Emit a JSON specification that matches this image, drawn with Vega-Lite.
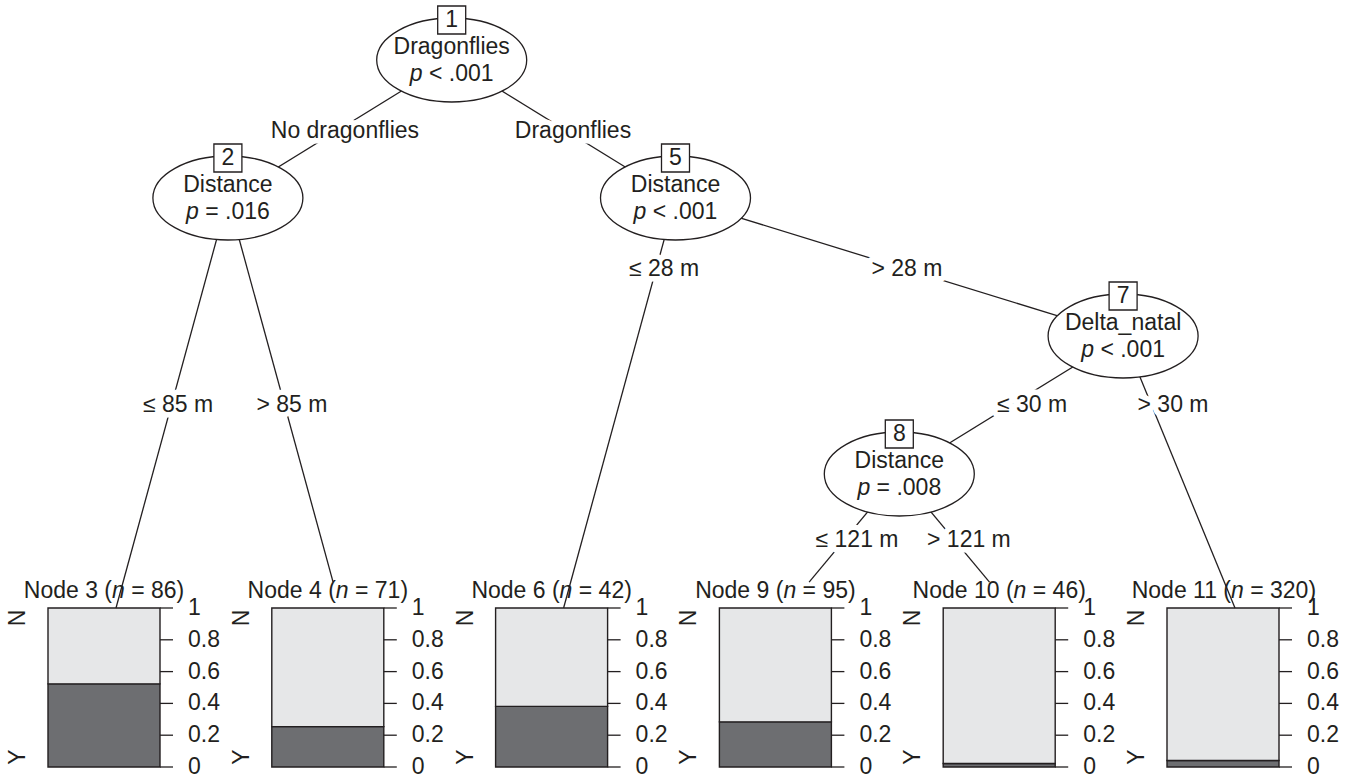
{
  "$schema": "https://vega.github.io/schema/vega-lite/v6.json",
  "width": 1352,
  "height": 779,
  "autosize": {"type": "fit", "contains": "padding"},
  "padding": 0,
  "background": "white",
  "config": {
    "view": {"stroke": null},
    "text": {"font": "Liberation Sans", "fontSize": 23, "color": "#231f20"}
  },
  "datasets": {
    "nodes": [
      {"id": 1, "var": "Dragonflies", "ptxt": "< .001", "x": 2.5, "y": 0},
      {"id": 2, "var": "Distance", "ptxt": "= .016", "x": 1.5, "y": 1},
      {"id": 5, "var": "Distance", "ptxt": "< .001", "x": 3.5, "y": 1},
      {"id": 7, "var": "Delta_natal", "ptxt": "< .001", "x": 5.5, "y": 2},
      {"id": 8, "var": "Distance", "ptxt": "= .008", "x": 4.5, "y": 3}
    ],
    "edges": [
      {"from": 1, "to": 2, "x": 2.5, "y": 0, "x2": 1.5, "y2": 1, "label": "No dragonflies", "lx": 2.023, "ly": 0.514},
      {"from": 1, "to": 5, "x": 2.5, "y": 0, "x2": 3.5, "y2": 1, "label": "Dragonflies", "lx": 3.042, "ly": 0.514},
      {"from": 2, "to": 3, "x": 1.5, "y": 1, "x2": 1, "y2": 3.971, "label": "≤ 85 m", "lx": 1.277, "ly": 2.5},
      {"from": 2, "to": 4, "x": 1.5, "y": 1, "x2": 1.97, "y2": 3.783, "label": "> 85 m", "lx": 1.786, "ly": 2.5},
      {"from": 5, "to": 6, "x": 3.5, "y": 1, "x2": 3, "y2": 3.971, "label": "≤ 28 m", "lx": 3.449, "ly": 1.514},
      {"from": 5, "to": 7, "x": 3.5, "y": 1, "x2": 5.5, "y2": 2, "label": "> 28 m", "lx": 4.534, "ly": 1.514},
      {"from": 7, "to": 8, "x": 5.5, "y": 2, "x2": 4.5, "y2": 3, "label": "≤ 30 m", "lx": 5.093, "ly": 2.5},
      {"from": 7, "to": 11, "x": 5.5, "y": 2, "x2": 6, "y2": 3.971, "label": "> 30 m", "lx": 5.723, "ly": 2.5},
      {"from": 8, "to": 9, "x": 4.5, "y": 3, "x2": 4.097, "y2": 3.783, "label": "≤ 121 m", "lx": 4.311, "ly": 3.478},
      {"from": 8, "to": 10, "x": 4.5, "y": 3, "x2": 4.903, "y2": 3.783, "label": "> 121 m", "lx": 4.811, "ly": 3.478}
    ],
    "leaves": [
      {"leaf": 1, "node": 3, "n": 86, "tl": "Node 3 (", "tr": "= 86)", "ticks": [0, 0.2, 0.4, 0.6, 0.8, 1]},
      {"leaf": 2, "node": 4, "n": 71, "tl": "Node 4 (", "tr": "= 71)", "ticks": [0, 0.2, 0.4, 0.6, 0.8, 1]},
      {"leaf": 3, "node": 6, "n": 42, "tl": "Node 6 (", "tr": "= 42)", "ticks": [0, 0.2, 0.4, 0.6, 0.8, 1]},
      {"leaf": 4, "node": 9, "n": 95, "tl": "Node 9 (", "tr": "= 95)", "ticks": [0, 0.2, 0.4, 0.6, 0.8, 1]},
      {"leaf": 5, "node": 10, "n": 46, "tl": "Node 10 (", "tr": "= 46)", "ticks": [0, 0.2, 0.4, 0.6, 0.8, 1]},
      {"leaf": 6, "node": 11, "n": 320, "tl": "Node 11 (", "tr": "= 320)", "ticks": [0, 0.2, 0.4, 0.6, 0.8, 1]}
    ],
    "bars": [
      {"leaf": 1, "cls": "Y", "share": 0.523, "ord": 0},
      {"leaf": 1, "cls": "N", "share": 0.477, "ord": 1},
      {"leaf": 2, "cls": "Y", "share": 0.254, "ord": 0},
      {"leaf": 2, "cls": "N", "share": 0.746, "ord": 1},
      {"leaf": 3, "cls": "Y", "share": 0.381, "ord": 0},
      {"leaf": 3, "cls": "N", "share": 0.619, "ord": 1},
      {"leaf": 4, "cls": "Y", "share": 0.284, "ord": 0},
      {"leaf": 4, "cls": "N", "share": 0.716, "ord": 1},
      {"leaf": 5, "cls": "Y", "share": 0.022, "ord": 0},
      {"leaf": 5, "cls": "N", "share": 0.978, "ord": 1},
      {"leaf": 6, "cls": "Y", "share": 0.041, "ord": 0},
      {"leaf": 6, "cls": "N", "share": 0.959, "ord": 1}
    ]
  },
  "resolve": {"scale": {"y": "independent"}},
  "layer": [
    {
      "data": {"name": "bars"},
      "transform": [{"stack": "share", "groupby": ["leaf"], "sort": [{"field": "ord", "order": "ascending"}], "as": ["lo", "hi"]}],
      "mark": {"type": "rect", "stroke": "#231f20", "strokeWidth": 1.4, "xOffset": -68, "x2Offset": 44},
      "encoding": {
        "x": {"field": "leaf", "type": "quantitative", "scale": {"domain": [1, 6], "range": [116, 1235], "zero": false, "nice": false}, "axis": null},
        "x2": {"field": "leaf"},
        "y": {"field": "lo", "type": "quantitative", "scale": {"domain": [0, 1], "range": [767, 608], "zero": false, "nice": false}, "axis": null},
        "y2": {"field": "hi"},
        "color": {"field": "cls", "type": "nominal", "scale": {"domain": ["Y", "N"], "range": ["#6d6e71", "#e6e7e8"]}, "legend": null}
      }
    },
    {
      "data": {"name": "leaves"},
      "transform": [{"flatten": ["ticks"], "as": ["t"]}],
      "mark": {"type": "rule", "stroke": "#231f20", "strokeWidth": 1.3, "xOffset": 44, "x2Offset": 57},
      "encoding": {
        "x": {"field": "leaf", "type": "quantitative", "scale": {"domain": [1, 6], "range": [116, 1235], "zero": false, "nice": false}, "axis": null},
        "x2": {"field": "leaf"},
        "y": {"field": "t", "type": "quantitative", "scale": {"domain": [0, 1], "range": [767, 608], "zero": false, "nice": false}, "axis": null}
      }
    },
    {
      "data": {"name": "leaves"},
      "transform": [{"flatten": ["ticks"], "as": ["t"]}],
      "mark": {"type": "text", "align": "left", "baseline": "middle", "xOffset": 72},
      "encoding": {
        "x": {"field": "leaf", "type": "quantitative", "scale": {"domain": [1, 6], "range": [116, 1235], "zero": false, "nice": false}, "axis": null},
        "y": {"field": "t", "type": "quantitative", "scale": {"domain": [0, 1], "range": [767, 608], "zero": false, "nice": false}, "axis": null},
        "text": {"field": "t", "type": "quantitative", "format": "~g"}
      }
    },
    {
      "data": {"name": "leaves"},
      "mark": {"type": "text", "align": "center", "baseline": "middle", "angle": 270, "xOffset": -98},
      "encoding": {
        "x": {"field": "leaf", "type": "quantitative", "scale": {"domain": [1, 6], "range": [116, 1235], "zero": false, "nice": false}, "axis": null},
        "y": {"datum": 0.937, "type": "quantitative", "scale": {"domain": [0, 1], "range": [767, 608], "zero": false, "nice": false}, "axis": null},
        "text": {"value": "N"}
      }
    },
    {
      "data": {"name": "leaves"},
      "mark": {"type": "text", "align": "center", "baseline": "middle", "angle": 270, "xOffset": -98},
      "encoding": {
        "x": {"field": "leaf", "type": "quantitative", "scale": {"domain": [1, 6], "range": [116, 1235], "zero": false, "nice": false}, "axis": null},
        "y": {"datum": 0.063, "type": "quantitative", "scale": {"domain": [0, 1], "range": [767, 608], "zero": false, "nice": false}, "axis": null},
        "text": {"value": "Y"}
      }
    },
    {
      "data": {"name": "leaves"},
      "transform": [{"filter": "datum.leaf != 5"}],
      "mark": {"type": "text", "align": "right", "baseline": "middle", "xOffset": -4},
      "encoding": {
        "x": {"field": "leaf", "type": "quantitative", "scale": {"domain": [1, 6], "range": [116, 1235], "zero": false, "nice": false}, "axis": null},
        "y": {"datum": 1.105, "type": "quantitative", "scale": {"domain": [0, 1], "range": [767, 608], "zero": false, "nice": false}, "axis": null},
        "text": {"field": "tl"}
      }
    },
    {
      "data": {"name": "leaves"},
      "transform": [{"filter": "datum.leaf != 5"}],
      "mark": {"type": "text", "align": "center", "baseline": "middle", "fontStyle": "italic", "xOffset": 2.4},
      "encoding": {
        "x": {"field": "leaf", "type": "quantitative", "scale": {"domain": [1, 6], "range": [116, 1235], "zero": false, "nice": false}, "axis": null},
        "y": {"datum": 1.105, "type": "quantitative", "scale": {"domain": [0, 1], "range": [767, 608], "zero": false, "nice": false}, "axis": null},
        "text": {"value": "n"}
      }
    },
    {
      "data": {"name": "leaves"},
      "transform": [{"filter": "datum.leaf != 5"}],
      "mark": {"type": "text", "align": "left", "baseline": "middle", "xOffset": 15.2},
      "encoding": {
        "x": {"field": "leaf", "type": "quantitative", "scale": {"domain": [1, 6], "range": [116, 1235], "zero": false, "nice": false}, "axis": null},
        "y": {"datum": 1.105, "type": "quantitative", "scale": {"domain": [0, 1], "range": [767, 608], "zero": false, "nice": false}, "axis": null},
        "text": {"field": "tr"}
      }
    },
    {
      "data": {"name": "leaves"},
      "transform": [{"filter": "datum.leaf == 5"}],
      "mark": {"type": "text", "align": "right", "baseline": "middle", "xOffset": 2.4},
      "encoding": {
        "x": {"field": "leaf", "type": "quantitative", "scale": {"domain": [1, 6], "range": [116, 1235], "zero": false, "nice": false}, "axis": null},
        "y": {"datum": 1.105, "type": "quantitative", "scale": {"domain": [0, 1], "range": [767, 608], "zero": false, "nice": false}, "axis": null},
        "text": {"field": "tl"}
      }
    },
    {
      "data": {"name": "leaves"},
      "transform": [{"filter": "datum.leaf == 5"}],
      "mark": {"type": "text", "align": "center", "baseline": "middle", "fontStyle": "italic", "xOffset": 8.8},
      "encoding": {
        "x": {"field": "leaf", "type": "quantitative", "scale": {"domain": [1, 6], "range": [116, 1235], "zero": false, "nice": false}, "axis": null},
        "y": {"datum": 1.105, "type": "quantitative", "scale": {"domain": [0, 1], "range": [767, 608], "zero": false, "nice": false}, "axis": null},
        "text": {"value": "n"}
      }
    },
    {
      "data": {"name": "leaves"},
      "transform": [{"filter": "datum.leaf == 5"}],
      "mark": {"type": "text", "align": "left", "baseline": "middle", "xOffset": 21.6},
      "encoding": {
        "x": {"field": "leaf", "type": "quantitative", "scale": {"domain": [1, 6], "range": [116, 1235], "zero": false, "nice": false}, "axis": null},
        "y": {"datum": 1.105, "type": "quantitative", "scale": {"domain": [0, 1], "range": [767, 608], "zero": false, "nice": false}, "axis": null},
        "text": {"field": "tr"}
      }
    },
    {
      "data": {"name": "edges"},
      "mark": {"type": "rule", "stroke": "#231f20", "strokeWidth": 1.3},
      "encoding": {
        "x": {"field": "x", "type": "quantitative", "scale": {"domain": [1, 6], "range": [116, 1235], "zero": false, "nice": false}, "axis": null},
        "x2": {"field": "x2"},
        "y": {"field": "y", "type": "quantitative", "scale": {"domain": [0, 4], "range": [60, 612], "zero": false, "nice": false}, "axis": null},
        "y2": {"field": "y2"}
      }
    },
    {
      "data": {"name": "edges"},
      "mark": {"type": "text", "align": "center", "baseline": "middle", "stroke": "white", "strokeWidth": 11, "strokeJoin": "round", "fill": "white"},
      "encoding": {
        "x": {"field": "lx", "type": "quantitative", "scale": {"domain": [1, 6], "range": [116, 1235], "zero": false, "nice": false}, "axis": null},
        "y": {"field": "ly", "type": "quantitative", "scale": {"domain": [0, 4], "range": [60, 612], "zero": false, "nice": false}, "axis": null},
        "text": {"field": "label"}
      }
    },
    {
      "data": {"name": "edges"},
      "mark": {"type": "text", "align": "center", "baseline": "middle"},
      "encoding": {
        "x": {"field": "lx", "type": "quantitative", "scale": {"domain": [1, 6], "range": [116, 1235], "zero": false, "nice": false}, "axis": null},
        "y": {"field": "ly", "type": "quantitative", "scale": {"domain": [0, 4], "range": [60, 612], "zero": false, "nice": false}, "axis": null},
        "text": {"field": "label"}
      }
    },
    {
      "data": {"name": "nodes"},
      "mark": {"type": "point", "shape": "M1,0C1,0.309 0.552,0.56 0,0.56C-0.552,0.56 -1,0.309 -1,0C-1,-0.309 -0.552,-0.56 0,-0.56C0.552,-0.56 1,-0.309 1,0Z", "size": 22500, "filled": true, "fill": "white", "stroke": "#231f20", "strokeWidth": 1.3, "opacity": 1, "fillOpacity": 1},
      "encoding": {
        "x": {"field": "x", "type": "quantitative", "scale": {"domain": [1, 6], "range": [116, 1235], "zero": false, "nice": false}, "axis": null},
        "y": {"field": "y", "type": "quantitative", "scale": {"domain": [0, 4], "range": [60, 612], "zero": false, "nice": false}, "axis": null}
      }
    },
    {
      "data": {"name": "nodes"},
      "mark": {"type": "text", "align": "center", "baseline": "middle", "yOffset": -13},
      "encoding": {
        "x": {"field": "x", "type": "quantitative", "scale": {"domain": [1, 6], "range": [116, 1235], "zero": false, "nice": false}, "axis": null},
        "y": {"field": "y", "type": "quantitative", "scale": {"domain": [0, 4], "range": [60, 612], "zero": false, "nice": false}, "axis": null},
        "text": {"field": "var"}
      }
    },
    {
      "data": {"name": "nodes"},
      "mark": {"type": "text", "align": "center", "baseline": "middle", "fontStyle": "italic", "xOffset": -35.5, "yOffset": 14},
      "encoding": {
        "x": {"field": "x", "type": "quantitative", "scale": {"domain": [1, 6], "range": [116, 1235], "zero": false, "nice": false}, "axis": null},
        "y": {"field": "y", "type": "quantitative", "scale": {"domain": [0, 4], "range": [60, 612], "zero": false, "nice": false}, "axis": null},
        "text": {"value": "p"}
      }
    },
    {
      "data": {"name": "nodes"},
      "mark": {"type": "text", "align": "left", "baseline": "middle", "xOffset": -22.7, "yOffset": 14},
      "encoding": {
        "x": {"field": "x", "type": "quantitative", "scale": {"domain": [1, 6], "range": [116, 1235], "zero": false, "nice": false}, "axis": null},
        "y": {"field": "y", "type": "quantitative", "scale": {"domain": [0, 4], "range": [60, 612], "zero": false, "nice": false}, "axis": null},
        "text": {"field": "ptxt"}
      }
    },
    {
      "data": {"name": "nodes"},
      "mark": {"type": "point", "shape": "square", "size": 784, "filled": true, "fill": "white", "stroke": "#231f20", "strokeWidth": 1.3, "opacity": 1, "fillOpacity": 1, "yOffset": -40},
      "encoding": {
        "x": {"field": "x", "type": "quantitative", "scale": {"domain": [1, 6], "range": [116, 1235], "zero": false, "nice": false}, "axis": null},
        "y": {"field": "y", "type": "quantitative", "scale": {"domain": [0, 4], "range": [60, 612], "zero": false, "nice": false}, "axis": null}
      }
    },
    {
      "data": {"name": "nodes"},
      "mark": {"type": "text", "align": "center", "baseline": "middle", "yOffset": -40},
      "encoding": {
        "x": {"field": "x", "type": "quantitative", "scale": {"domain": [1, 6], "range": [116, 1235], "zero": false, "nice": false}, "axis": null},
        "y": {"field": "y", "type": "quantitative", "scale": {"domain": [0, 4], "range": [60, 612], "zero": false, "nice": false}, "axis": null},
        "text": {"field": "id"}
      }
    }
  ]
}
